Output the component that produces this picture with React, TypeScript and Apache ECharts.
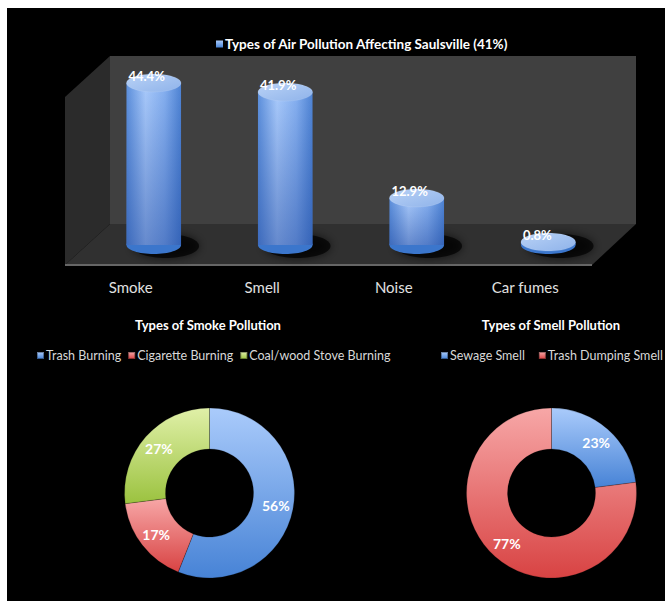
import React, { useEffect, useRef } from "react";
import * as echarts from "echarts";

const categories = ["Smoke", "Smell", "Noise", "Car fumes"];
const airValues = [44.4, 41.9, 12.9, 0.8];
const airSeriesName = "Types of Air Pollution Affecting Saulsville (41%)";

const smokeTitle = "Types of Smoke Pollution";
const smokeNames = ["Trash Burning", "Cigarette Burning", "Coal/wood Stove Burning"];
const smokeValues = [56, 17, 27];

const smellTitle = "Types of Smell Pollution";
const smellNames = ["Sewage Smell", "Trash Dumping Smell"];
const smellValues = [23, 77];

const FONT = 'Lato, "Open Sans", sans-serif';

const grad = (a: string, b: string) =>
  new echarts.graphic.LinearGradient(0, 0, 0, 1, [
    { offset: 0, color: a },
    { offset: 1, color: b },
  ]);

const blueGrad = () => grad("#aacbfb", "#4783d6");
const redGrad = () => grad("#f7a7a7", "#d84343");
const greenGrad = () => grad("#e0f0a8", "#9bc23f");

export default function App() {
  const ref = useRef<HTMLDivElement>(null);

  useEffect(() => {
    if (!ref.current) return;
    const chart = echarts.init(ref.current, undefined, { renderer: "svg" });

    const bodyGrad = new echarts.graphic.LinearGradient(0, 0, 1, 0, [
      { offset: 0, color: "#5d90dc" },
      { offset: 0.35, color: "#a9cafb" },
      { offset: 0.7, color: "#86b0f0" },
      { offset: 1, color: "#4f84d4" },
    ]);
    const shadeGrad = new echarts.graphic.LinearGradient(0, 0, 0, 1, [
      { offset: 0, color: "rgba(20,60,150,0)" },
      { offset: 1, color: "rgba(20,60,150,0.45)" },
    ]);
    const topGrad = new echarts.graphic.LinearGradient(0, 0, 1, 1, [
      { offset: 0, color: "#b9d2f6" },
      { offset: 1, color: "#8fb3ea" },
    ]);

    const pieLabel = {
      show: true,
      position: "inside",
      formatter: "{c}%",
      color: "#fff",
      fontWeight: "bold",
      fontSize: 14,
      fontFamily: FONT,
    };

    const legendText = { color: "#d8d8d8", fontSize: 12.5, fontFamily: FONT, padding: [0, 0, 0, -3] };

    const option: any = {
      animation: false,
      backgroundColor: "#ffffff",
      textStyle: { fontFamily: FONT },
      graphic: [
        { type: "rect", z: -20, shape: { x: 7, y: 8, width: 658, height: 593 }, style: { fill: "#000" } },
        { type: "rect", z: -10, shape: { x: 110, y: 56, width: 526, height: 168 }, style: { fill: "#404040" } },
        { type: "polygon", z: -10, shape: { points: [[65, 97], [110, 56], [110, 224], [65, 265]] }, style: { fill: "#2b2b2b" } },
        { type: "polygon", z: -9, shape: { points: [[110, 224], [636, 224], [592, 265], [65, 265]] }, style: { fill: "#303030" } },
        { type: "line", z: -8, shape: { x1: 65, y1: 265, x2: 592, y2: 265 }, style: { stroke: "#666", lineWidth: 2 } },
        { type: "text", z: 10, style: { text: smokeTitle, x: 208, y: 325, align: "center", verticalAlign: "middle", fill: "#fff", font: `bold 13px ${FONT}` } },
        { type: "text", z: 10, style: { text: smellTitle, x: 551, y: 325, align: "center", verticalAlign: "middle", fill: "#fff", font: `bold 13px ${FONT}` } },
      ],
      legend: [
        {
          data: [airSeriesName],
          left: 211,
          top: 32,
          icon: "rect",
          itemWidth: 7,
          itemHeight: 7,
          itemGap: 4,
          textStyle: { color: "#fff", fontWeight: "bold", fontSize: 13.5, fontFamily: FONT, padding: [0, 0, 0, -3] },
          selectedMode: false,
        },
        {
          data: smokeNames,
          left: 31,
          top: 344,
          icon: "rect",
          itemWidth: 7,
          itemHeight: 7,
          itemGap: 6,
          textStyle: legendText,
          selectedMode: false,
        },
        {
          data: smellNames,
          left: 435,
          top: 344,
          width: 400,
          icon: "rect",
          itemWidth: 7,
          itemHeight: 7,
          itemGap: 13,
          textStyle: legendText,
          selectedMode: false,
        },
      ],
      grid: { left: 88, right: 51, top: 62.5, bottom: 356 },
      xAxis: {
        type: "category",
        data: categories,
        axisLine: { show: false },
        axisTick: { show: false },
        axisLabel: {
          color: "#e0e0e0",
          fontSize: 15,
          fontFamily: FONT,
          margin: 34,
          padding: [0, 46, 0, 0],
        },
      },
      yAxis: { type: "value", min: 0, max: 50, show: false },
      series: [
        {
          name: airSeriesName,
          type: "custom",
          coordinateSystem: "cartesian2d",
          itemStyle: { color: blueGrad() },
          encode: { x: 0, y: 1 },
          data: airValues.map((v, i) => [i, v]),
          renderItem: (params: any, api: any) => {
            const idx = api.value(0);
            const v = api.value(1);
            const top = api.coord([idx, v]);
            const base = api.coord([idx, 0]);
            const w = api.size([1, 0])[0] * 0.415;
            const cx = top[0];
            const rx = w / 2;
            const ry = 9;
            const h = base[1] - top[1];
            return {
              type: "group",
              children: [
                {
                  type: "ellipse",
                  shape: { cx: cx + 12, cy: base[1] + 1, rx: rx + 6, ry: ry + 3 },
                  style: { fill: "rgba(0,0,0,0.7)", shadowBlur: 10, shadowColor: "rgba(0,0,0,0.9)" },
                },
                { type: "ellipse", shape: { cx, cy: base[1], rx, ry }, style: { fill: "#3b76cc" } },
                { type: "rect", shape: { x: cx - rx, y: top[1], width: w, height: h }, style: { fill: bodyGrad } },
                { type: "rect", shape: { x: cx - rx, y: top[1], width: w, height: h }, style: { fill: shadeGrad } },
                {
                  type: "ellipse",
                  shape: { cx, cy: top[1], rx, ry },
                  style: { fill: topGrad, stroke: "rgba(255,255,255,0.2)", lineWidth: 0.5 },
                },
                {
                  type: "text",
                  style: {
                    text: `${v}%`,
                    x: cx - rx + 2,
                    y: top[1] - 7,
                    verticalAlign: "middle",
                    fill: "#ffffff",
                    font: `bold 13px ${FONT}`,
                  },
                },
              ],
            };
          },
        },
        {
          type: "pie",
          center: [209.5, 493],
          radius: [44, 85],
          startAngle: 90,
          itemStyle: { borderColor: "rgba(0,0,0,0.35)", borderWidth: 0.6 },
          label: pieLabel,
          labelLine: { show: false },
          data: smokeNames.map((n, i) => ({
            name: n,
            value: smokeValues[i],
            itemStyle: { color: [blueGrad(), redGrad(), greenGrad()][i] },
          })),
        },
        {
          type: "pie",
          center: [551.5, 493],
          radius: [44, 85],
          startAngle: 90,
          itemStyle: { borderColor: "rgba(0,0,0,0.35)", borderWidth: 0.6 },
          label: pieLabel,
          labelLine: { show: false },
          data: smellNames.map((n, i) => ({
            name: n,
            value: smellValues[i],
            itemStyle: { color: [blueGrad(), redGrad()][i] },
          })),
        },
      ],
    };
    chart.setOption(option);
    return () => chart.dispose();
  }, []);

  return (
    <div
      ref={ref}
      style={{ position: "fixed", left: 0, top: 0, width: 665, height: 601 }}
    />
  );
}
